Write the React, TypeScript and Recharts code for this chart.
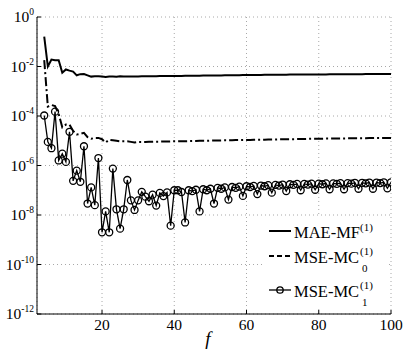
import React from "react";
import { LineChart, Line, XAxis, YAxis, CartesianGrid, Legend, Label } from "recharts";

const SERIF = "Liberation Serif, DejaVu Serif, serif";

// frequency index f
const fValues = [
  4, 5, 6, 7, 8, 9, 10, 11, 12, 13, 14, 15, 16, 17, 18, 19, 20, 21, 22, 23,
  24, 25, 26, 27, 28, 29, 30, 31, 32, 33, 34, 35, 36, 37, 38, 39, 40, 41, 42, 43,
  44, 45, 46, 47, 48, 49, 50, 51, 52, 53, 54, 55, 56, 57, 58, 59, 60, 61, 62, 63,
  64, 65, 66, 67, 68, 69, 70, 71, 72, 73, 74, 75, 76, 77, 78, 79, 80, 81, 82, 83,
  84, 85, 86, 87, 88, 89, 90, 91, 92, 93, 94, 95, 96, 97, 98, 99, 100,
];

// MAE-MF(1)
const maeMF = [
  0.16, 0.01, 0.019, 0.018, 0.018, 0.0056, 0.0076, 0.0068, 0.0062, 0.0044,
  0.0049, 0.005, 0.0044, 0.0039, 0.004, 0.004, 0.0039, 0.0038, 0.0039, 0.0039,
  0.00385, 0.004, 0.0039, 0.0039, 0.00395, 0.0039, 0.00395, 0.004, 0.004, 0.004,
  0.00405, 0.00405, 0.0041, 0.0041, 0.0041, 0.0041, 0.0041, 0.00415, 0.00415, 0.0042,
  0.0042, 0.0042, 0.00425, 0.00425, 0.0043, 0.0043, 0.0043, 0.0043, 0.00435, 0.00435,
  0.0044, 0.0044, 0.0044, 0.00445, 0.00445, 0.0045, 0.0045, 0.0045, 0.0045, 0.00455,
  0.00455, 0.0046, 0.0046, 0.0046, 0.0046, 0.00465, 0.00465, 0.00465, 0.0047, 0.0047,
  0.0047, 0.0047, 0.00475, 0.00475, 0.00475, 0.0048, 0.0048, 0.0048, 0.0048, 0.00485,
  0.00485, 0.00485, 0.00485, 0.0049, 0.0049, 0.0049, 0.0049, 0.0049, 0.0049, 0.00495,
  0.00495, 0.00495, 0.00495, 0.00495, 0.005, 0.005, 0.005,
];

// MSE-MC0(1)
const mseMC0 = [
  1.8e-2, 2.4e-4, 2.8e-4, 2.5e-4, 1.2e-4, 3.5e-5, 4.5e-5, 4.5e-5, 2.5e-5, 1.8e-5,
  1.9e-5, 2.1e-5, 1.4e-5, 1.2e-5, 1.3e-5, 1.3e-5, 1.15e-5, 8.5e-6, 1.1e-5, 1.05e-5,
  1.0e-5, 9.5e-6, 9.5e-6, 9.5e-6, 9.0e-6, 8.5e-6, 9.0e-6, 9.0e-6, 9.0e-6, 9.1e-6,
  9.1e-6, 9.2e-6, 9.2e-6, 9.3e-6, 9.3e-6, 9.4e-6, 9.5e-6, 9.5e-6, 9.6e-6, 9.6e-6,
  9.7e-6, 9.8e-6, 9.8e-6, 9.9e-6, 1.0e-5, 1.0e-5, 1.01e-5, 1.02e-5, 1.02e-5, 1.03e-5,
  1.04e-5, 1.04e-5, 1.05e-5, 1.06e-5, 1.06e-5, 1.07e-5, 1.08e-5, 1.08e-5, 1.09e-5, 1.1e-5,
  1.1e-5, 1.11e-5, 1.12e-5, 1.12e-5, 1.13e-5, 1.14e-5, 1.14e-5, 1.15e-5, 1.16e-5, 1.16e-5,
  1.17e-5, 1.18e-5, 1.18e-5, 1.19e-5, 1.2e-5, 1.2e-5, 1.21e-5, 1.21e-5, 1.22e-5, 1.22e-5,
  1.23e-5, 1.23e-5, 1.24e-5, 1.24e-5, 1.25e-5, 1.25e-5, 1.26e-5, 1.26e-5, 1.27e-5, 1.27e-5,
  1.28e-5, 1.28e-5, 1.29e-5, 1.29e-5, 1.3e-5, 1.3e-5, 1.3e-5,
];

// MSE-MC1(1)
const mseMC1 = [
  1.05e-4, 9e-6, 5e-6, 1.5e-4, 1.6e-6, 3e-6, 1.4e-6, 2.3e-5, 2.4e-7, 6.2e-7,
  2.2e-7, 6e-6, 2.9e-8, 1.3e-7, 2.5e-8, 2e-6, 2e-9, 1.4e-8, 2e-9, 7.5e-7,
  1.7e-8, 2.8e-9, 1.7e-8, 2.6e-7, 3.9e-8, 1.6e-8, 3.9e-8, 8.6e-8, 5.5e-8, 3.6e-8,
  6.6e-8, 2.4e-8, 7.8e-8, 5.8e-8, 8.2e-8, 3.7e-9, 1e-7, 1e-7, 8.5e-8, 5e-9,
  1.0e-7, 9.2e-8, 1.05e-7, 1.4e-8, 1.1e-7, 1.0e-7, 1.15e-7, 2.9e-8, 1.25e-7, 1.15e-7,
  1.3e-7, 4.2e-8, 1.35e-7, 1.25e-7, 1.4e-7, 5.9e-8, 1.45e-7, 1.35e-7, 1.5e-7, 7.0e-8,
  1.55e-7, 1.45e-7, 1.6e-7, 8.0e-8, 1.65e-7, 1.55e-7, 1.7e-7, 9.3e-8, 1.75e-7, 1.65e-7,
  1.8e-7, 1.0e-7, 1.8e-7, 1.7e-7, 1.85e-7, 1.05e-7, 1.85e-7, 1.75e-7, 1.9e-7, 1.1e-7,
  1.9e-7, 1.8e-7, 1.95e-7, 1.1e-7, 1.95e-7, 1.85e-7, 2.0e-7, 1.15e-7, 2.0e-7, 1.9e-7,
  2.05e-7, 1.15e-7, 2.05e-7, 1.95e-7, 2.1e-7, 1.2e-7, 2.1e-7,
];

const xTicks = [20, 40, 60, 80, 100];
const yTicks = [1e-12, 1e-10, 1e-8, 1e-6, 1e-4, 1e-2, 1];

const data = fValues.map((f, i) => ({
  f,
  mae: maeMF[i],
  mc0: mseMC0[i],
  mc1: mseMC1[i],
}));

const XTick = (props: any) => {
  const { x, y, payload } = props;
  return (
    <text x={x} y={y} dy={12} textAnchor="middle" style={{ fontFamily: SERIF }} fontSize={15.5} fill="#000">
      {payload.value}
    </text>
  );
};

const YTick = (props: any) => {
  const { x, y, payload } = props;
  const exp = Math.round(Math.log10(payload.value));
  return (
    <text x={x} y={y + 5} textAnchor="end" style={{ fontFamily: SERIF }} fontSize={15.5} fill="#000">
      10
      <tspan dy={-7} fontSize={9.5}>
        {exp}
      </tspan>
    </text>
  );
};

const NoTick = () => <g />;

const LegendBox = () => (
  <svg width={124} height={92} style={{ display: "block" }}>
    <rect x={0} y={0} width={124} height={92} fill="#fff" />
    <g style={{ fontFamily: SERIF }} fill="#000">
      <line x1={5} x2={27} y1={15} y2={15} stroke="#000" strokeWidth={2} />
      <text x={30} y={21.5} fontSize={16.5}>MAE-MF</text>
      <text x={96} y={14.5} fontSize={11}>(1)</text>

      <line x1={5} x2={27} y1={40} y2={40} stroke="#000" strokeWidth={2} strokeDasharray="5 3" />
      <text x={30} y={46.5} fontSize={16.5}>MSE-MC</text>
      <text x={96} y={38.5} fontSize={11}>(1)</text>
      <text x={98} y={56} fontSize={11}>0</text>

      <line x1={5} x2={27} y1={74} y2={74} stroke="#000" strokeWidth={1.3} />
      <circle cx={16} cy={74} r={3.2} fill="none" stroke="#000" strokeWidth={1.3} />
      <text x={30} y={80.5} fontSize={16.5}>MSE-MC</text>
      <text x={96} y={72.5} fontSize={11}>(1)</text>
      <text x={98} y={90} fontSize={11}>1</text>
    </g>
  </svg>
);

export default function App() {
  return (
    <div style={{ position: "absolute", left: 0, top: 0, background: "#fff" }}>
      <LineChart width={416} height={356} data={data} margin={{ top: 17, right: 25, bottom: 0, left: 0 }}>
        <CartesianGrid stroke="#a8a8a8" strokeDasharray="1 3" />
        <XAxis
          dataKey="f"
          type="number"
          domain={[2, 100]}
          ticks={xTicks}
          allowDataOverflow
          height={42}
          tickSize={-4}
          tickMargin={8}
          tick={<XTick />}
          axisLine={{ stroke: "#000" }}
          tickLine={{ stroke: "#000" }}
        >
          <Label
            content={(p: any) => {
              const vb = p.viewBox;
              return (
                <text
                  x={vb.x + vb.width / 2 - 6}
                  y={vb.y + vb.height - 11}
                  textAnchor="middle"
                  style={{ fontFamily: SERIF }}
                  fontStyle="italic"
                  fontSize={19}
                  fill="#000"
                >
                  f
                </text>
              );
            }}
          />
        </XAxis>
        <XAxis
          xAxisId="top"
          orientation="top"
          dataKey="f"
          type="number"
          domain={[2, 100]}
          ticks={xTicks}
          allowDataOverflow
          height={0}
          tickSize={-4}
          tick={NoTick}
          axisLine={{ stroke: "#000" }}
          tickLine={{ stroke: "#000" }}
        />
        <YAxis
          type="number"
          scale="log"
          domain={[1e-12, 1]}
          ticks={yTicks}
          allowDataOverflow
          width={37}
          tickSize={-4}
          tickMargin={7}
          tick={<YTick />}
          axisLine={{ stroke: "#000" }}
          tickLine={{ stroke: "#000" }}
        />
        <YAxis
          yAxisId="r"
          orientation="right"
          type="number"
          scale="log"
          domain={[1e-12, 1]}
          ticks={yTicks}
          allowDataOverflow
          width={0}
          tickSize={-4}
          tick={NoTick}
          axisLine={{ stroke: "#000" }}
          tickLine={{ stroke: "#000" }}
        />
        <Legend
          layout="vertical"
          align="center"
          verticalAlign="middle"
          wrapperStyle={{ left: 264, top: 216, width: 124, height: 92 }}
          content={() => <LegendBox />}
        />
        <Line
          dataKey="mae"
          type="linear"
          stroke="#000"
          strokeWidth={2}
          dot={false}
          activeDot={false}
          isAnimationActive={false}
        />
        <Line
          dataKey="mc0"
          type="linear"
          stroke="#000"
          strokeWidth={2}
          strokeDasharray="9 3 2 3"
          dot={false}
          activeDot={false}
          isAnimationActive={false}
        />
        <Line
          dataKey="mc1"
          type="linear"
          stroke="#000"
          strokeWidth={1.3}
          dot={{ r: 3.5, fill: "none", stroke: "#000", strokeWidth: 1.3 }}
          activeDot={false}
          isAnimationActive={false}
        />
      </LineChart>
    </div>
  );
}
